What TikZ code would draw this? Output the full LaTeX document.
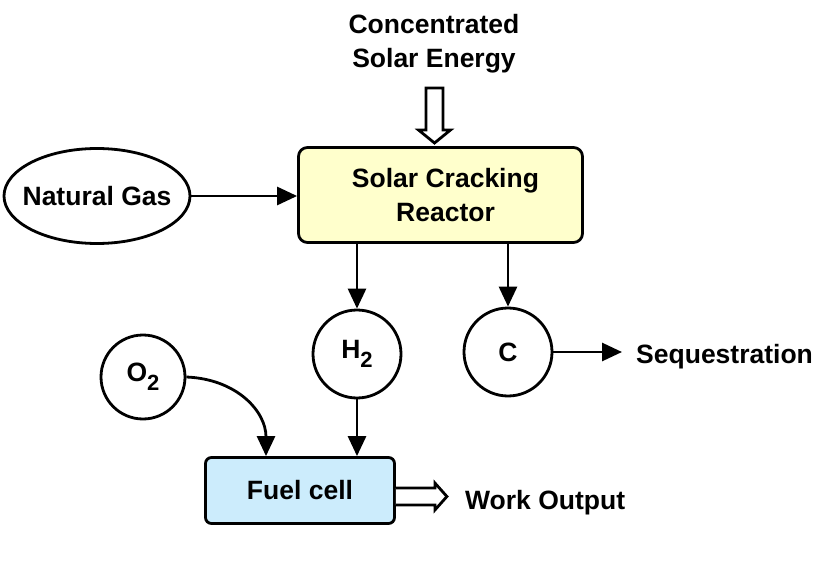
\documentclass[tikz,border=0pt]{standalone}
\usepackage{fontspec}
\setmainfont{Liberation Sans}
\usetikzlibrary{arrows.meta,shapes.geometric,calc}
\definecolor{reactorfill}{RGB}{255,255,204}
\definecolor{cellfill}{RGB}{204,236,252}
\newcommand{\pedice}[1]{\raisebox{-9pt}{\fontsize{22}{22}\selectfont #1}}

\begin{document}
\begin{tikzpicture}[x=1pt,y=-1pt,
    every node/.style={font=\fontsize{26.5}{34}\selectfont\bfseries},
    box/.style={draw,line width=2.8pt,rounded corners=9pt,align=center},
    blob/.style={draw,circle,line width=2.8pt,inner sep=0pt,fill=white},
    arr/.style={line width=2.8pt,-{Triangle[length=20pt,width=18pt]}},
    hollow/.style={draw,line width=2.8pt,fill=white,line join=miter}]
    \useasboundingbox (0,0) rectangle (840,569);
    %nodi
    \node[align=center] (sun) at (434,44) {Concentrated\\Solar Energy};
    \node[box,fill=reactorfill,minimum width=284pt,minimum height=95pt] (reactor) at (440.5,195) {\hspace*{10pt}Solar Cracking\\\hspace*{10pt}Reactor};
    \node[draw,ellipse,line width=2.8pt,inner xsep=-10pt,inner ysep=0pt,minimum width=186pt,minimum height=95pt] (gas) at (97,196) {Natural Gas};
    \node[blob,minimum size=88pt] (h2) at (357,354) {H\pedice{2}};
    \node[blob,minimum size=88pt] (c) at (508,352) {C};
    \node[blob,minimum size=84pt] (o2) at (143,377) {O\pedice{2}};
    \node[box,fill=cellfill,rounded corners=6pt,minimum width=189pt,minimum height=66pt] (fuel) at (300,490.5) {Fuel cell};
    \node[anchor=west,inner sep=0pt] (seq) at (636,357) {Sequestration};
    \node[anchor=west,inner sep=0pt] (work) at (465,503) {Work Output};
    %frecce piene
    \draw[arr] (gas.east) -- (gas.east -| reactor.west);
    \draw[arr] (reactor.south -| h2.north) -- (h2.north);
    \draw[arr] (reactor.south -| c.north) -- (c.north);
    \draw[arr,shorten >=14pt] (c.east) -- (c.east -| seq.west);
    \draw[arr] (h2.south) -- (h2.south |- fuel.north);
    \draw[arr] (o2.east) .. controls +(50,2) and +(0,-45) .. ($(fuel.north)+(-34,0)$);
    %frecce vuote
    \coordinate (sunin) at (434.5,88);
    \draw[hollow] (sunin) ++(-8.5,0) -- ++(0,42) -- ++(-7.5,0) -- ++(16,13) -- ++(16,-13) -- ++(-7.5,0) -- ++(0,-42) -- cycle;
    \coordinate (workin) at (fuel.east |- 0,496.5);
    \draw[hollow] (workin) ++(0,-8.5) -- ++(39,0) -- ++(0,-5) -- ++(12,13.5) -- ++(-12,13.5) -- ++(0,-5) -- ++(-39,0);
\end{tikzpicture}
\end{document}
